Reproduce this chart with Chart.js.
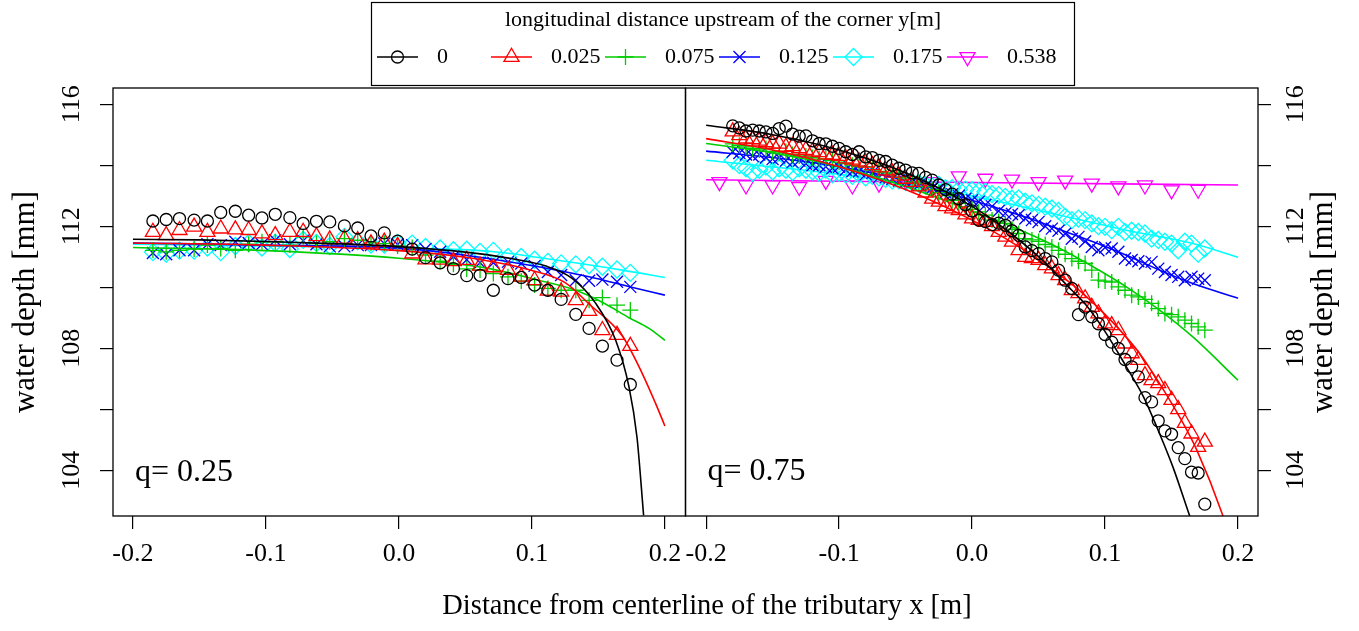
<!DOCTYPE html>
<html>
<head>
<meta charset="utf-8">
<script src="https://cdn.jsdelivr.net/npm/chart.js@4.4.1/dist/chart.umd.min.js"></script>
<style>
  html, body { margin: 0; padding: 0; background: #fff; }
  #wrap { position: relative; width: 1359px; height: 631px; }
</style>
</head>
<body>
<div id="wrap"><canvas id="chart" width="1359" height="631"></canvas></div>
<script>
// series: longitudinal distance upstream of the corner y [m]
const seriesLabels = ['0', '0.025', '0.075', '0.125', '0.175', '0.538'];
const seriesColors = ['#000000', '#ff0000', '#00cd00', '#0000ff', '#00ffff', '#ff00ff'];

// axis ticks
const xTicks = [-0.2, -0.1, 0, 0.1, 0.2];
const yTicks = [104, 106, 108, 110, 112, 114, 116];
const yTickLabels = [104, 108, 112, 116];
const panelLabels = ['q= 0.25', 'q= 0.75'];

// ---- left panel (q = 0.25), measured points ----
const leftX = [-0.185, -0.175, -0.165, -0.154, -0.144, -0.134, -0.123, -0.113, -0.103, -0.093, -0.082, -0.072,
  -0.062, -0.052, -0.041, -0.031, -0.021, -0.011, -0.001, 0.010, 0.020, 0.031, 0.041, 0.051, 0.061, 0.071,
  0.082, 0.092, 0.102, 0.112, 0.122, 0.133, 0.143, 0.153, 0.164, 0.174];
const leftBlack = [112.17, 112.22, 112.25, 112.2, 112.17, 112.45, 112.49, 112.36, 112.27, 112.39, 112.28, 112.09,
  112.16, 112.14, 112.01, 111.94, 111.68, 111.78, 111.51, 111.25, 110.97, 110.8, 110.61, 110.38, 110.39, 109.9,
  110.28, 110.32, 110.07, 109.9, 109.6, 109.11, 108.65, 108.07, 107.61, 106.81];
const leftRed = [111.81, 111.70, 111.87, 111.98, 111.81, 111.92, 111.89, 111.87, 111.76, 111.70, 111.81, 111.81,
  111.67, 111.56, 111.59, 111.54, 111.43, 111.49, 111.35, 111.1, 110.91, 110.9, 110.85, 110.89, 110.7, 110.65,
  110.56, 110.34, 110.23, 109.88, 109.85, 109.57, 109.22, 108.59, 108.43, 108.07];
const leftGreen = [111.21, 111.16, 111.21, 111.25, 111.38, 111.27, 111.21, 111.41, 111.49, 111.49, 111.38, 111.65,
  111.43, 111.49, 111.59, 111.54, 111.45, 111.43, 111.35, 111.3, 111.05, 110.85, 110.75, 110.6, 110.56, 110.45,
  110.34, 110.2, 110.07, 109.96, 109.9, 109.9, 109.57, 109.66, 109.41, 109.25];
const leftBlue = [111.12, 111.08, 111.21, 111.21, 111.41, 111.38, 111.49, 111.45, 111.41, 111.54, 111.41, 111.52,
  111.41, 111.34, 111.34, 111.38, 111.38, 111.43, 111.4, 111.38, 111.25, 111.16, 111.0, 110.9, 110.8, 110.8,
  110.83, 110.78, 110.7, 110.5, 110.4, 110.23, 110.21, 110.25, 110.18, 110.01];
const leftCyan = [111.15, 111.1, 111.2, 111.2, 111.3, 111.15, 111.35, 111.45, 111.3, 111.45, 111.25, 111.55,
  111.45, 111.35, 111.65, 111.5, 111.4, 111.4, 111.45, 111.43, 111.32, 111.27, 111.21, 111.23, 111.16, 111.19,
  110.99, 110.99, 110.90, 110.83, 110.78, 110.75, 110.72, 110.67, 110.58, 110.47];

// ---- left panel fitted curves ----
const fitLBlackX = [-0.2, -0.15, -0.1, -0.05, 0, 0.05, 0.08, 0.11, 0.13, 0.148, 0.163, 0.173, 0.179, 0.184];
const fitLBlackY = [111.57, 111.55, 111.5, 111.43, 111.33, 111.15, 110.97, 110.7, 110.3, 109.47, 108.26, 106.73, 105.09, 102.52];
const fitLRedX = [-0.2, -0.1, 0, 0.05, 0.1, 0.125, 0.143, 0.168, 0.183, 0.193, 0.2];
const fitLRedY = [111.45, 111.38, 111.2, 110.98, 110.55, 110.15, 109.45, 108.4, 107.17, 106.19, 105.45];
const fitLGreenX = [-0.2, -0.1, 0, 0.068, 0.105, 0.133, 0.155, 0.173, 0.188, 0.2];
const fitLGreenY = [111.3, 111.2, 110.95, 110.61, 110.23, 109.9, 109.46, 109.0, 108.65, 108.26];
const fitLBlueX = [-0.2, -0.1, 0, 0.05, 0.105, 0.143, 0.175, 0.2];
const fitLBlueY = [111.45, 111.38, 111.28, 111.05, 110.67, 110.34, 110.0, 109.74];
const fitLCyanX = [-0.2, -0.1, 0, 0.068, 0.118, 0.168, 0.2];
const fitLCyanY = [111.41, 111.35, 111.28, 111.18, 110.89, 110.56, 110.32];

// ---- right panel (q = 0.75), measured points ----
const rightX = [-0.18, -0.175, -0.17, -0.165, -0.16, -0.155, -0.15, -0.145, -0.14, -0.135, -0.13, -0.125,
  -0.12, -0.115, -0.11, -0.105, -0.1, -0.095, -0.09, -0.085, -0.08, -0.075, -0.07, -0.065, -0.06, -0.055,
  -0.05, -0.045, -0.04, -0.035, -0.03, -0.025, -0.02, -0.015, -0.01, -0.005, 0, 0.005, 0.01, 0.015, 0.02,
  0.025, 0.03, 0.035, 0.04, 0.045, 0.05, 0.055, 0.06, 0.065, 0.07, 0.075, 0.08, 0.085, 0.09, 0.095, 0.1,
  0.105, 0.11, 0.115, 0.12, 0.125, 0.13, 0.135, 0.14, 0.145, 0.15, 0.155, 0.16, 0.165, 0.17, 0.175];
const rightBlack = [115.29, 115.22, 115.12, 115.15, 115.12, 115.09, 115.04, 115.20, 115.28, 115.02, 114.95, 114.96,
  114.80, 114.71, 114.70, 114.62, 114.55, 114.44, 114.35, 114.44, 114.27, 114.25, 114.16, 114.12, 114.0, 113.9,
  113.84, 113.75, 113.73, 113.6, 113.51, 113.35, 113.2, 113.05, 112.9, 112.7, 112.5, 112.2, 112.15, 112.05, 112.1,
  112.03, 111.85, 111.7, 111.32, 111.2, 111.1, 110.94, 110.83, 110.56, 110.23, 109.96, 109.10, 109.35, 109.03, 108.8,
  108.45, 108.2, 107.99, 107.63, 107.39, 107.06, 106.38, 106.24, 105.62, 105.29, 105.18, 104.74, 104.38, 103.94,
  103.91, 102.89];
const rightRed = [115.1, 114.98, 114.87, 114.85, 114.8, 114.75, 114.7, 114.7, 114.6, 114.62, 114.55, 114.5,
  114.45, 114.42, 114.35, 114.33, 114.3, 114.22, 114.18, 114.12, 114.08, 114.0, 113.92, 113.82, 113.75, 113.65,
  113.55, 113.45, 113.3, 113.1, 112.9, 112.8, 112.65, 112.58, 112.52, 112.38, 112.25, 112.2, 112.14, 112.0, 111.81,
  111.65, 111.49, 111.21, 110.99, 110.95, 110.89, 110.72, 110.61, 110.39, 110.23, 109.9, 109.8, 109.63, 109.35, 109.14,
  108.81, 108.75, 108.59, 108.15, 107.83, 107.61, 107.11, 106.95, 106.85, 106.62, 106.3, 106.0, 105.55, 105.2,
  104.76, 104.93];
const rightGreen = [114.7, 114.65, 114.6, 114.55, 114.5, 114.55, 114.45, 114.4, 114.45, 114.35, 114.3, 114.3,
  114.25, 114.2, 114.2, 114.15, 114.1, 114.05, 114.0, 113.95, 113.95, 113.85, 113.8, 113.75, 113.7, 113.6,
  113.55, 113.45, 113.4, 113.3, 113.2, 113.1, 113.0, 112.85, 112.75, 112.64, 112.55, 112.47, 112.36, 112.2, 112.15,
  112.09, 111.9, 111.76, 111.59, 111.55, 111.5, 111.4, 111.32, 111.21, 111.08, 110.94, 110.85, 110.78, 110.56, 110.23,
  110.2, 110.17, 110.01, 109.9, 109.74, 109.68, 109.6, 109.47, 109.3, 109.14, 109.1, 109.03, 108.92, 108.81,
  108.7, 108.59];
const rightBlue = [114.44, 114.4, 114.35, 114.3, 114.35, 114.25, 114.2, 114.25, 114.15, 114.1, 114.15, 114.05,
  114.0, 114.0, 113.95, 113.9, 113.95, 113.85, 113.8, 113.8, 113.7, 113.75, 113.6, 113.6, 113.55, 113.5,
  113.45, 113.45, 113.35, 113.3, 113.25, 113.2, 113.1, 113.05, 113.0, 112.9, 112.85, 112.8, 112.7, 112.65, 112.5,
  112.42, 112.4, 112.36, 112.25, 112.2, 112.14, 112.0, 111.92, 111.85, 111.75, 111.59, 111.65, 111.5, 111.32, 111.21,
  111.3, 111.27, 111.16, 110.94, 110.89, 110.85, 110.78, 110.83, 110.61, 110.5, 110.4, 110.34, 110.23, 110.34,
  110.28, 110.23];
const rightCyan = [114.16, 114.0, 113.9, 113.75, 113.85, 113.95, 113.8, 113.9, 113.85, 113.78, 113.9, 113.85,
  113.8, 113.75, 113.85, 113.7, 113.75, 113.7, 113.65, 113.7, 113.6, 113.65, 113.6, 113.55, 113.5, 113.5,
  113.45, 113.45, 113.4, 113.35, 113.3, 113.35, 113.25, 113.25, 113.2, 113.2, 113.18, 113.15, 113.13, 113.05, 113.02,
  112.96, 112.9, 112.91, 112.8, 112.75, 112.7, 112.64, 112.58, 112.5, 112.31, 112.2, 112.25, 112.2, 112.09, 112.0,
  111.98, 111.87, 111.98, 111.81, 111.85, 111.81, 111.76, 111.59, 111.55, 111.49, 111.43, 111.21, 111.49, 111.43,
  111.1, 111.27];
const rightMagX = [-0.19, -0.17, -0.15, -0.13, -0.11, -0.09, -0.07, -0.05, -0.03, -0.01, 0.01, 0.03, 0.05, 0.07,
  0.09, 0.11, 0.13, 0.15, 0.17];
const rightMagenta = [113.45, 113.34, 113.34, 113.29, 113.49, 113.34, 113.4, 113.5, 113.45, 113.64, 113.56, 113.53,
  113.45, 113.5, 113.4, 113.31, 113.34, 113.18, 113.2];

// ---- right panel fitted curves ----
const fitRBlackX = [-0.2, -0.15, -0.1, -0.05, 0, 0.025, 0.05, 0.075, 0.086, 0.101, 0.116, 0.129, 0.141, 0.151, 0.163, 0.166];
const fitRBlackY = [115.31, 115.0, 114.5, 113.75, 112.65, 111.9, 111.0, 109.9, 109.4, 108.48, 107.39, 106.4, 105.2, 104.11, 102.58, 102.2];
const fitRRedX = [-0.2, -0.15, -0.1, -0.05, 0, 0.025, 0.05, 0.075, 0.089, 0.109, 0.126, 0.141, 0.156, 0.169, 0.188, 0.19];
const fitRRedY = [114.87, 114.5, 113.95, 113.2, 112.2, 111.6, 110.9, 110.1, 109.57, 108.7, 107.83, 106.84, 105.75, 104.66, 102.58, 102.3];
const fitRGreenX = [-0.2, -0.15, -0.1, -0.05, 0, 0.04, 0.066, 0.091, 0.116, 0.141, 0.166, 0.2];
const fitRGreenY = [114.71, 114.4, 113.95, 113.3, 112.5, 111.8, 111.27, 110.67, 110.01, 109.25, 108.37, 106.95];
const fitRBlueX = [-0.2, -0.15, -0.1, -0.05, 0, 0.04, 0.066, 0.091, 0.116, 0.141, 0.166, 0.2];
const fitRBlueY = [114.46, 114.25, 113.95, 113.5, 112.85, 112.3, 111.89, 111.49, 111.05, 110.56, 110.12, 109.64];
const fitRCyanX = [-0.2, -0.1, 0, 0.066, 0.116, 0.166, 0.2];
const fitRCyanY = [114.16, 113.7, 113.0, 112.36, 111.87, 111.43, 110.98];
const fitRMagX = [-0.2, 0, 0.2];
const fitRMagY = [113.52, 113.43, 113.35];

// R-like plotting symbols: pch 1..6
const markers = [
  { style: 'circle', r: 6, rot: 0 },
  { style: 'triangle', r: 8.7, rot: 0 },
  { style: 'cross', r: 8, rot: 0 },
  { style: 'crossRot', r: 8.5, rot: 0 },
  { style: 'rectRot', r: 8.5, rot: 0 },
  { style: 'triangle', r: 8.7, rot: 180 }
];

Chart.defaults.font.family = "'Liberation Serif', 'Times New Roman', serif";
Chart.defaults.color = '#000';

function pts(xs, ys) {
  return xs.map((x, i) => ({ x: x, y: ys[i] }));
}

function markerSet(xs, ys, k, side) {
  return {
    data: pts(xs, ys),
    xAxisID: 'x' + side, yAxisID: 'y' + side,
    showLine: false,
    borderColor: seriesColors[k],
    backgroundColor: 'rgba(0,0,0,0)',
    pointBorderColor: seriesColors[k],
    pointBackgroundColor: 'rgba(0,0,0,0)',
    pointStyle: markers[k].style,
    pointRadius: markers[k].r,
    pointHoverRadius: markers[k].r,
    pointRotation: markers[k].rot,
    pointBorderWidth: 1.3,
    clip: 0
  };
}

function fitSet(xs, ys, k, side) {
  return {
    data: pts(xs, ys),
    xAxisID: 'x' + side, yAxisID: 'y' + side,
    showLine: true,
    borderColor: seriesColors[k],
    borderWidth: 1.6,
    pointRadius: 0,
    pointHoverRadius: 0,
    cubicInterpolationMode: 'monotone',
    clip: 0
  };
}

// first dataset is drawn last (on top), so black goes first
const datasets = [
  markerSet(leftX, leftBlack, 0, 'L'), fitSet(fitLBlackX, fitLBlackY, 0, 'L'),
  markerSet(rightX, rightBlack, 0, 'R'), fitSet(fitRBlackX, fitRBlackY, 0, 'R'),
  markerSet(leftX, leftRed, 1, 'L'), fitSet(fitLRedX, fitLRedY, 1, 'L'),
  markerSet(rightX, rightRed, 1, 'R'), fitSet(fitRRedX, fitRRedY, 1, 'R'),
  markerSet(leftX, leftGreen, 2, 'L'), fitSet(fitLGreenX, fitLGreenY, 2, 'L'),
  markerSet(rightX, rightGreen, 2, 'R'), fitSet(fitRGreenX, fitRGreenY, 2, 'R'),
  markerSet(leftX, leftBlue, 3, 'L'), fitSet(fitLBlueX, fitLBlueY, 3, 'L'),
  markerSet(rightX, rightBlue, 3, 'R'), fitSet(fitRBlueX, fitRBlueY, 3, 'R'),
  markerSet(leftX, leftCyan, 4, 'L'), fitSet(fitLCyanX, fitLCyanY, 4, 'L'),
  markerSet(rightX, rightCyan, 4, 'R'), fitSet(fitRCyanX, fitRCyanY, 4, 'R'),
  markerSet(rightMagX, rightMagenta, 5, 'R'), fitSet(fitRMagX, fitRMagY, 5, 'R')
];

const tickGrid = { display: true, drawOnChartArea: false, drawTicks: true, tickLength: 13, color: '#000', lineWidth: 1.2 };

function xScale(min, max) {
  return {
    type: 'linear', position: 'bottom', stack: 'panels', stackWeight: 1,
    min: min, max: max, bounds: 'data',
    afterBuildTicks: s => { s.ticks = xTicks.map(v => ({ value: v })); },
    afterFit: s => { s.height = 115; },
    ticks: {
      autoSkip: false, maxRotation: 0, minRotation: 0, padding: 10,
      color: '#000', font: { size: 26 },
      callback: v => (Math.abs(v) < 1e-9 ? 0 : v).toFixed(1)
    },
    grid: tickGrid,
    border: { display: false }
  };
}

function yScale(pos, w, pad) {
  return {
    type: 'linear', position: pos, min: 102.5, max: 116.53, bounds: 'data',
    afterBuildTicks: s => { s.ticks = yTicks.map(v => ({ value: v })); },
    afterFit: s => { s.width = w; },
    ticks: {
      autoSkip: false, minRotation: 90, maxRotation: 90, crossAlign: 'center', padding: pad,
      color: '#000', font: { size: 26 },
      callback: v => (yTickLabels.includes(v) ? String(v) : '')
    },
    grid: tickGrid,
    border: { display: false }
  };
}

function drawSymbol(ctx, k, x, y) {
  const m = markers[k];
  const r = m.r;
  ctx.beginPath();
  if (m.style === 'circle') {
    ctx.arc(x, y, r, 0, 2 * Math.PI);
  } else if (m.style === 'triangle') {
    const s = m.rot ? -1 : 1;
    ctx.moveTo(x, y - s * r);
    ctx.lineTo(x + r * 0.866, y + s * r * 0.5);
    ctx.lineTo(x - r * 0.866, y + s * r * 0.5);
    ctx.closePath();
  } else if (m.style === 'cross') {
    ctx.moveTo(x - r, y); ctx.lineTo(x + r, y);
    ctx.moveTo(x, y - r); ctx.lineTo(x, y + r);
  } else if (m.style === 'crossRot') {
    const d = r * Math.SQRT1_2;
    ctx.moveTo(x - d, y - d); ctx.lineTo(x + d, y + d);
    ctx.moveTo(x - d, y + d); ctx.lineTo(x + d, y - d);
  } else if (m.style === 'rectRot') {
    ctx.moveTo(x - r, y); ctx.lineTo(x, y - r); ctx.lineTo(x + r, y); ctx.lineTo(x, y + r);
    ctx.closePath();
  }
  ctx.stroke();
}

function rotText(ctx, txt, x, y) {
  ctx.save();
  ctx.translate(x, y);
  ctx.rotate(-Math.PI / 2);
  ctx.textAlign = 'center';
  ctx.textBaseline = 'middle';
  ctx.fillText(txt, 0, 0);
  ctx.restore();
}

const serif = "'Liberation Serif', 'Times New Roman', serif";

const decor = {
  id: 'decor',
  afterDatasetsDraw(chart) {
    const ctx = chart.ctx;
    const { top, bottom } = chart.chartArea;
    const xl = chart.scales.xL, xr = chart.scales.xR;
    ctx.save();
    ctx.strokeStyle = '#000';
    ctx.lineWidth = 1.3;
    ctx.strokeRect(xl.left, top, xl.right - xl.left, bottom - top);
    ctx.strokeRect(xr.left, top, xr.right - xr.left, bottom - top);

    ctx.fillStyle = '#000';
    // panel labels
    ctx.font = '32px ' + serif;
    ctx.textAlign = 'left';
    ctx.textBaseline = 'alphabetic';
    ctx.fillText(panelLabels[0], xl.left + 22, 481);
    ctx.fillText(panelLabels[1], xr.left + 22, 480);

    // axis titles
    ctx.font = '28.5px ' + serif;
    ctx.textAlign = 'center';
    ctx.textBaseline = 'middle';
    ctx.fillText('Distance from centerline of the tributary x [m]', 707, 607);
    const midY = (top + bottom) / 2;
    ctx.font = '31px ' + serif;
    rotText(ctx, 'water depth [mm]', 26, midY);
    rotText(ctx, 'water depth [mm]', 1324, midY);

    // legend
    ctx.lineWidth = 1.2;
    ctx.strokeRect(371.5, 2.5, 703, 83);
    ctx.font = '22px ' + serif;
    ctx.textAlign = 'center';
    ctx.fillText('longitudinal distance upstream of the corner y[m]', 723, 20);
    ctx.textAlign = 'left';
    seriesLabels.forEach((lab, k) => {
      const x0 = 377 + k * 114;
      const y0 = 57;
      ctx.strokeStyle = seriesColors[k];
      ctx.lineWidth = 1.5;
      ctx.beginPath();
      ctx.moveTo(x0, y0);
      ctx.lineTo(x0 + 41, y0);
      ctx.stroke();
      ctx.lineWidth = 1.3;
      drawSymbol(ctx, k, x0 + 20.5, y0);
      ctx.fillStyle = '#000';
      ctx.fillText(lab, x0 + 60, y0);
    });
    ctx.restore();
  }
};

new Chart(document.getElementById('chart'), {
  type: 'scatter',
  data: { datasets: datasets },
  options: {
    responsive: false,
    animation: false,
    devicePixelRatio: 1,
    layout: { padding: { top: 88, left: 0, right: 0, bottom: 0 } },
    plugins: { legend: { display: false }, tooltip: { enabled: false } },
    scales: {
      xL: xScale(-0.215, 0.2155),
      xR: xScale(-0.2155, 0.215),
      yL: yScale('left', 113, 8),
      yR: yScale('right', 101, 6)
    }
  },
  plugins: [decor]
});
</script>
</body>
</html>
